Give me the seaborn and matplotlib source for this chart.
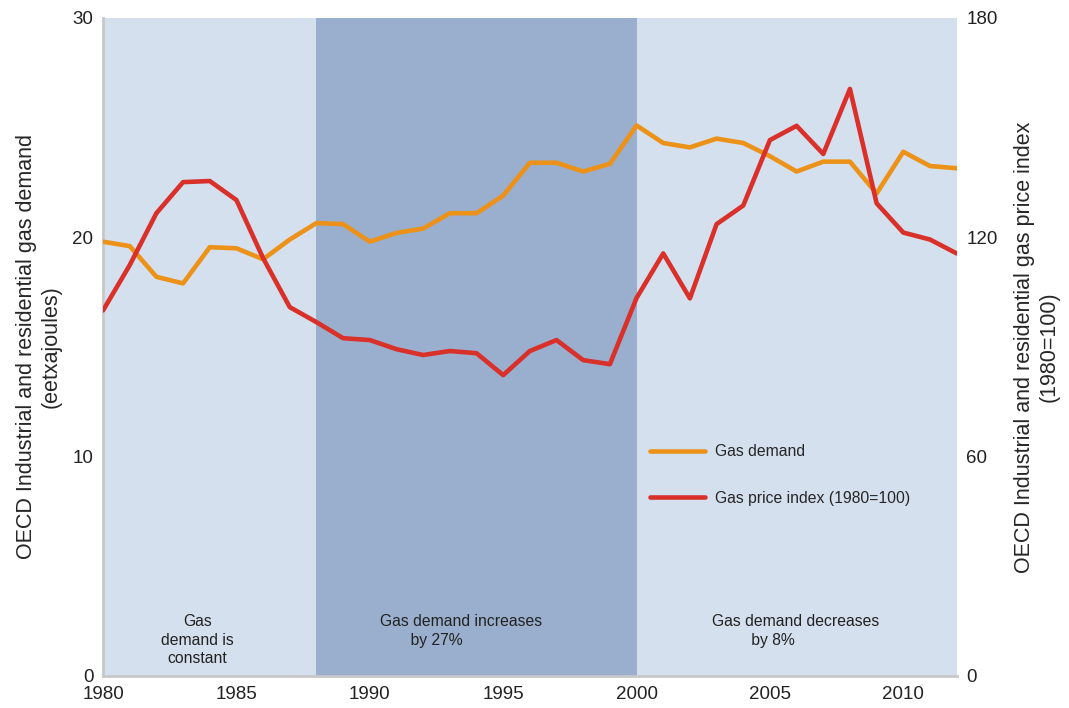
import matplotlib
matplotlib.use("Agg")
import matplotlib.pyplot as plt
import pandas as pd
import seaborn as sns

# values
years = list(range(1980, 2013))
gas_demand = [19.8, 19.6, 18.2, 17.9, 19.55, 19.5, 19.0, 19.9, 20.65, 20.6,
              19.8, 20.2, 20.4, 21.1, 21.1, 21.9, 23.4, 23.4, 23.0, 23.35,
              25.1, 24.3, 24.1, 24.5, 24.3, 23.7, 23.0, 23.45, 23.45, 22.0,
              23.9, 23.25, 23.15]
price_index = [100, 112.4, 126.6, 135.1, 135.4, 130.2, 114.3, 100.9, 96.8, 92.4,
               91.9, 89.4, 87.8, 88.9, 88.3, 82.3, 88.9, 91.9, 86.4, 85.3,
               103.4, 115.6, 103.3, 123.6, 128.7, 146.6, 150.5, 142.8, 160.6, 129.3,
               121.3, 119.4, 115.6]
periods = [(1980, 1988), (1988, 2000), (2000, 2012)]
period_notes = ["Gas\ndemand is\nconstant",
                "Gas demand increases\n       by 27%",
                "Gas demand decreases\n         by 8%"]
note_x = [1983.55, 1993.43, 2005.98]
note_align = ["center", "left", "left"]

df = pd.DataFrame({"year": years, "demand": gas_demand, "price": price_index})

sns.set_style("white")
plt.rcParams['font.family'] = ['Liberation Sans', 'DejaVu Sans']

light = "#d5e0ee"
dark = "#9aafcd"
orange = "#ec9218"
red = "#d9302a"

fig = plt.figure(figsize=(10.69, 7.08), dpi=100)
ax = fig.add_axes([0.0964, 0.0452, 0.7985, 0.9294])
ax2 = ax.twinx()

for (a, b), c in zip(periods, [light, dark, light]):
    ax.axvspan(a, b, color=c, lw=0, zorder=0)

sns.lineplot(data=df, x="year", y="demand", ax=ax, color=orange, lw=3.3,
             label="Gas demand", legend=False, zorder=3)
sns.lineplot(data=df, x="year", y="price", ax=ax2, color=red, lw=3.3,
             label="Gas price index (1980=100)", legend=False, zorder=3)

for x, t, al in zip(note_x, period_notes, note_align):
    ax.text(x, 2.82, t, ha="center", va="top", multialignment=al, fontsize=11.3,
            color="#222222", linespacing=1.3)

ax.set_xlim(1980, 2012)
ax.set_ylim(0, 30)
ax2.set_ylim(0, 180)
ax.set_xticks([1980, 1985, 1990, 1995, 2000, 2005, 2010])
ax.set_yticks([0, 10, 20, 30])
ax2.set_yticks([0, 60, 120, 180])

ax.set_xlabel("")
ax.set_ylabel("OECD Industrial and residential gas demand\n(eetxajoules)", fontsize=15.5,
              labelpad=8)
ax2.set_ylabel("OECD Industrial and residential gas price index\n(1980=100)", fontsize=15.5,
               rotation=90, labelpad=12)

ax.tick_params(axis="both", length=0, labelsize=13.5, pad=7, colors="#222222")
ax2.tick_params(axis="y", length=0, labelsize=13.5, pad=7, colors="#222222")

for a in (ax, ax2):
    for s in ["top", "right"]:
        a.spines[s].set_visible(False)
ax2.spines["left"].set_visible(False)
ax2.spines["bottom"].set_visible(False)
ax.spines["left"].set_color("#c8c8c8")
ax.spines["left"].set_linewidth(2)
ax.spines["bottom"].set_color("#c8c8c8")
ax.spines["bottom"].set_linewidth(2)

h1, l1 = ax.get_legend_handles_labels()
h2, l2 = ax2.get_legend_handles_labels()
ax2.legend(h1 + h2, l1 + l2, loc="upper left", bbox_to_anchor=(0.641, 0.352),
           frameon=False, fontsize=11.3, handlelength=3.5, labelspacing=2.0,
           borderpad=0, borderaxespad=0, handletextpad=0.6)

fig.savefig("out.png", dpi=100)
